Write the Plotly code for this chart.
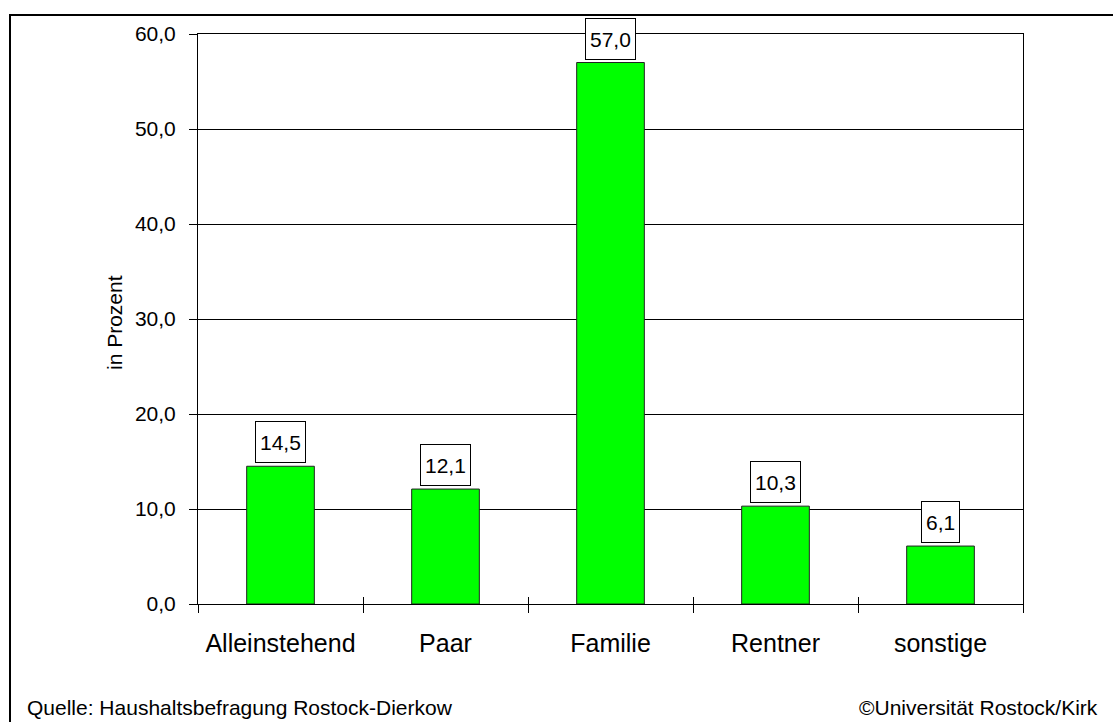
import plotly.graph_objects as go

categories = ["Alleinstehend", "Paar", "Familie", "Rentner", "sonstige"]
values = [14.5, 12.1, 57.0, 10.3, 6.1]
y_ticks = [0, 10, 20, 30, 40, 50, 60]
y_title = "in Prozent"
source_text = "Quelle: Haushaltsbefragung Rostock-Dierkow"
copyright_text = "©Universität Rostock/Kirk"

W, H = 1113, 722
L, R, T, B = 198, 1023, 34, 604
pw, ph = R - L, B - T

def px_x(p):
    return (p - L) / pw

def px_y(p):
    return (B - p) / ph

FONT = "Liberation Sans, Arial, sans-serif"

fig = go.Figure()
fig.add_trace(go.Bar(
    x=categories, y=values,
    marker=dict(color="#00FF00", line=dict(color="#222222", width=1)),
    showlegend=False, hoverinfo="skip",
))
# helper trace for inner boundary ticks
fig.add_trace(go.Scatter(x=[None], y=[None], xaxis="x2", showlegend=False, hoverinfo="skip"))

for c, v in zip(categories, values):
    fig.add_annotation(
        x=c, y=v, text=f"{v:.1f}".replace(".", ","), showarrow=False,
        yanchor="bottom", yshift=3,
        font=dict(family=FONT, size=21, color="black"),
        bgcolor="white", bordercolor="black", borderwidth=1, borderpad=4,
        height=32,
    )

fig.add_annotation(
    xref="paper", yref="paper", x=px_x(114), y=px_y(323),
    text=y_title, textangle=-90, showarrow=False,
    xanchor="center", yanchor="middle",
    font=dict(family=FONT, size=21, color="black"),
)
fig.add_annotation(
    xref="paper", yref="paper", x=px_x(25), y=px_y(721),
    text=source_text, showarrow=False, xanchor="left", yanchor="bottom",
    font=dict(family=FONT, size=21, color="black"),
)
fig.add_annotation(
    xref="paper", yref="paper", x=px_x(1100), y=px_y(721),
    text=copyright_text, showarrow=False, xanchor="right", yanchor="bottom",
    font=dict(family=FONT, size=21, color="black"),
)

# outer frame
fig.add_shape(
    type="rect", xref="paper", yref="paper",
    x0=px_x(10), x1=px_x(1130), y0=px_y(740), y1=px_y(15),
    line=dict(color="black", width=2), fillcolor="rgba(0,0,0,0)", layer="below",
)

n = len(categories)
fig.update_layout(
    width=W, height=H,
    margin=dict(l=L, r=W - R, t=T, b=H - B, pad=0),
    paper_bgcolor="white", plot_bgcolor="white",
    separators=",.",
    bargap=0.59,
    font=dict(family=FONT, color="black"),
    xaxis=dict(
        type="category", categoryarray=categories, range=[-0.5, n - 0.5],
        showgrid=False, showline=True, linecolor="black", linewidth=1,
        mirror=True, ticks="outside", ticklen=8, tickcolor="black",
        tickson="boundaries", tickfont=dict(family=FONT, size=25),
        ticklabelstandoff=17, zeroline=False,
    ),
    xaxis2=dict(
        overlaying="x", anchor="y", side="bottom", range=[-0.5, n - 0.5],
        tickvals=[i + 0.5 for i in range(n - 1)], ticks="inside", ticklen=7,
        tickcolor="black", showticklabels=False, showgrid=False,
        showline=False, zeroline=False,
    ),
    yaxis=dict(
        range=[0, 60], tickvals=y_ticks, tickformat=".1f",
        showgrid=True, gridcolor="black", gridwidth=1,
        showline=True, linecolor="black", linewidth=1, mirror=True,
        ticks="outside", ticklen=8, tickcolor="black",
        tickfont=dict(family=FONT, size=21), ticklabelstandoff=9,
        zeroline=False,
    ),
)

fig.write_html(
    "out.html",
    config={"displayModeBar": False},
    post_script="document.body.style.margin='0';document.body.style.overflow='hidden';",
)
